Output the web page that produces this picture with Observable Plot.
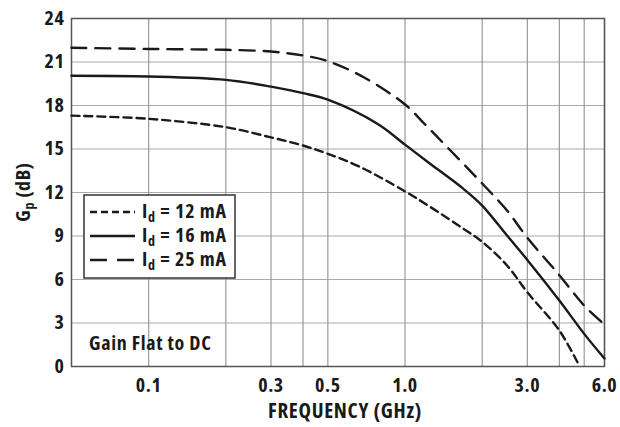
<!DOCTYPE html>
<html>
<head>
<meta charset="utf-8">
<script src="https://cdn.jsdelivr.net/npm/d3@7"></script>
<script src="https://cdn.jsdelivr.net/npm/@observablehq/plot@0.6"></script>
<style>
  html, body { margin: 0; padding: 0; background: #fff; }
  #chart svg { display: block; }
  #chart svg text { font-stretch: 75%; letter-spacing: 0.6px; }
</style>
</head>
<body>
<div id="chart"></div>
<script>
// ---- Data ----
const freq12 = [0.05, 0.1, 0.2, 0.3, 0.4, 0.5, 0.67, 1.0, 1.23, 1.69, 2, 2.5, 3, 4, 4.8];
const gain12 = [17.3, 17.08, 16.5, 15.8, 15.24, 14.67, 13.75, 12.08, 11.1, 9.5, 8.6, 6.97, 5.12, 2.48, 0.0];
const freq16 = [0.05, 0.1, 0.2, 0.3, 0.4, 0.5, 0.78, 1.0, 1.23, 1.69, 2, 2.5, 3, 4, 5, 6];
const gain16 = [20.05, 20.0, 19.77, 19.3, 18.85, 18.4, 16.74, 15.3, 14.09, 12.25, 11.1, 9.03, 7.35, 4.55, 2.25, 0.55];
const freq25 = [0.05, 0.1, 0.2, 0.3, 0.4, 0.5, 0.69, 1.0, 1.19, 1.44, 2, 2.5, 3, 4, 5, 6];
const gain25 = [21.98, 21.9, 21.84, 21.72, 21.45, 21.06, 19.95, 18.07, 16.74, 15.24, 12.62, 10.76, 8.88, 6.3, 4.2, 2.9];

const seriesNames = ["12 mA", "16 mA", "25 mA"];
const xTicks = [0.1, 0.3, 0.5, 1, 3, 6];
const xTickLabels = ["0.1", "0.3", "0.5", "1.0", "3.0", "6.0"];
const xGrid = [0.1, 0.2, 0.3, 0.4, 0.5, 1, 2, 3, 4, 5, 6];
const yTicks = [0, 3, 6, 9, 12, 15, 18, 21, 24];
const xLabel = "FREQUENCY (GHz)";
const note = "Gain Flat to DC";

// styles
const dashes = {"12 mA": "8,5", "16 mA": null, "25 mA": "15,9"};
const FONT = '"Open Sans", "Liberation Sans Narrow", "DejaVu Sans Condensed", sans-serif';

const rows = [];
[[freq12, gain12], [freq16, gain16], [freq25, gain25]].forEach(([f, g], i) => {
  f.forEach((v, j) => rows.push({series: seriesNames[i], f: v, g: g[j]}));
});

const lineMarks = seriesNames.map(name =>
  Plot.line(rows.filter(d => d.series === name), {
    x: "f", y: "g", stroke: "#1a1a1a", strokeWidth: 2.4,
    strokeDasharray: dashes[name] || undefined, curve: "catmull-rom"
  })
);

const plot = Plot.plot({
  width: 620,
  height: 427,
  marginLeft: 71,
  marginRight: 16,
  marginTop: 18,
  marginBottom: 61,
  style: {fontFamily: FONT, fontWeight: "bold", fontSize: "19px", color: "#1a1a1a", background: "#fff", overflow: "visible"},
  x: {type: "log", domain: [0.05, 6], axis: null},
  y: {domain: [0, 24], axis: null},
  marks: [
    Plot.gridY(yTicks, {stroke: "#aaa", strokeOpacity: 1, strokeWidth: 1.2}),
    Plot.gridX(xGrid, {stroke: "#999", strokeOpacity: 1, strokeWidth: 1.2}),
    Plot.text(xTicks, {x: d => d, text: (d, i) => xTickLabels[i], frameAnchor: "bottom", lineAnchor: "middle", dy: 19, fontSize: 20, fill: "#1a1a1a"}),
    Plot.text(yTicks, {y: d => d, text: d => String(d), frameAnchor: "left", textAnchor: "end", dx: -7, fontSize: 20, fill: "#1a1a1a"}),
    Plot.frame({stroke: "#555", strokeWidth: 1.5}),
    ...lineMarks
  ]
});

document.getElementById("chart").appendChild(plot);

// ---- Annotations (labels, legend) ----
const svg = d3.select(plot);

// x axis title
svg.append("text")
  .attr("x", 345).attr("y", 418)
  .attr("text-anchor", "middle")
  .attr("font-family", FONT).attr("font-weight", "bold").attr("font-size", 21)
  .attr("fill", "#1a1a1a")
  .style("letter-spacing", "0.7px")
  .text(xLabel);

// y axis title with subscript
const yl = svg.append("text")
  .attr("transform", "translate(30,192) rotate(-90)")
  .attr("text-anchor", "middle")
  .attr("font-family", FONT).attr("font-weight", "bold").attr("font-size", 20)
  .attr("fill", "#1a1a1a");
yl.append("tspan").text("G");
yl.append("tspan").attr("dy", 4).attr("font-size", 14).text("p");
yl.append("tspan").attr("dy", -4).text(" (dB)");

// note
svg.append("text")
  .attr("x", 89).attr("y", 350)
  .attr("text-anchor", "start")
  .attr("font-family", FONT).attr("font-weight", "bold").attr("font-size", 20)
  .attr("fill", "#1a1a1a")
  .style("letter-spacing", "0.7px")
  .text(note);

// legend
const lg = svg.append("g");
lg.append("rect")
  .attr("x", 84).attr("y", 195).attr("width", 151).attr("height", 83)
  .attr("fill", "#fff").attr("stroke", "#333").attr("stroke-width", 1.5);
seriesNames.forEach((name, i) => {
  const cy = 212 + i * 24;
  const ln = lg.append("line")
    .attr("x1", 90).attr("x2", 135).attr("y1", cy).attr("y2", cy)
    .attr("stroke", "#1a1a1a").attr("stroke-width", 2.4);
  if (dashes[name]) ln.attr("stroke-dasharray", name === "12 mA" ? "7,4" : "17,10");
  const t = lg.append("text")
    .attr("x", 142).attr("y", cy + 6)
    .attr("text-anchor", "start")
    .attr("font-family", FONT).attr("font-weight", "bold").attr("font-size", 20)
    .attr("fill", "#1a1a1a")
    .style("letter-spacing", "0.8px");
  t.append("tspan").text("I");
  t.append("tspan").attr("dy", 4).attr("font-size", 14).text("d");
  t.append("tspan").attr("dy", -4).text(" = " + name);
});
</script>
</body>
</html>
